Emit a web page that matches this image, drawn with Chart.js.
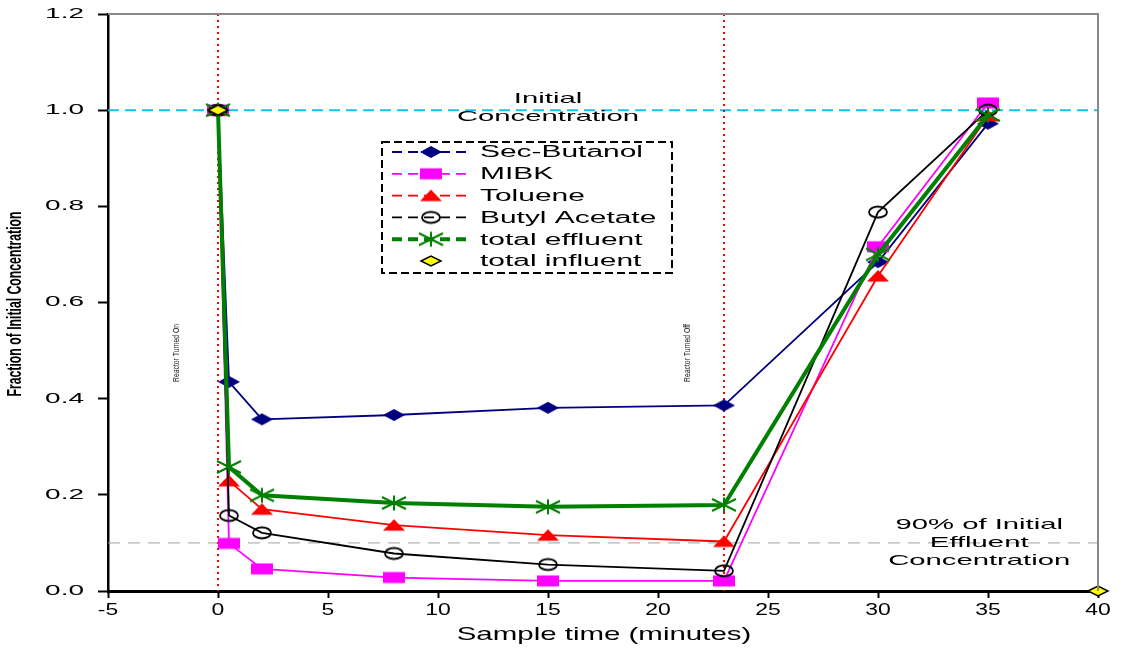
<!DOCTYPE html>
<html>
<head>
<meta charset="utf-8">
<script src="https://cdn.jsdelivr.net/npm/chart.js@4/dist/chart.umd.min.js"></script>
<style>
  html, body { margin: 0; padding: 0; background: #fff; }
  #wrap { width: 1125px; height: 651px; position: relative; }
</style>
</head>
<body>
<div id="wrap"><canvas id="chart" width="1125" height="651"></canvas></div>
<script>
// Sample times (minutes) shared by every effluent series
const sampleTimes = [0, 0.5, 2, 8, 15, 23, 30, 35];

// Fraction of initial concentration per compound
const secButanol   = [1.0, 0.435, 0.357, 0.366, 0.381, 0.386, 0.684, 0.972];
const mibk         = [1.0, 0.099, 0.046, 0.028, 0.021, 0.021, 0.716, 1.015];
const toluene      = [1.0, 0.229, 0.170, 0.137, 0.116, 0.103, 0.655, 0.988];
const butylAcetate = [1.0, 0.157, 0.121, 0.078, 0.055, 0.042, 0.788, 1.000];
const totalEffluent= [1.0, 0.258, 0.199, 0.183, 0.175, 0.179, 0.700, 0.990];

// Influent samples
const influentTimes = [0, 40];
const totalInfluent = [1.0, 0.0];

// Reference levels and events
const initialLevel = 1.0;
const ninetyPctLevel = 0.1;
const reactorOnTime = 0;
const reactorOffTime = 23;

// Axis tick labels
const xTickLabels = ['-5', '0', '5', '10', '15', '20', '25', '30', '35', '40'];
const yTickLabels = ['0.0', '0.2', '0.4', '0.6', '0.8', '1.0', '1.2'];

const FONT = '"Liberation Sans", Arial, sans-serif';

// Marker images (wide, flat glyphs)
function makeMarker(kind, color) {
  const c = document.createElement('canvas');
  c.width = 28; c.height = 18;
  const g = c.getContext('2d');
  const cx = 14, cy = 9;
  g.fillStyle = color; g.strokeStyle = color;
  if (kind === 'diamond') {
    g.beginPath();
    g.moveTo(cx - 11, cy); g.lineTo(cx, cy - 6); g.lineTo(cx + 11, cy); g.lineTo(cx, cy + 6);
    g.closePath(); g.fill();
  } else if (kind === 'square') {
    g.fillRect(cx - 11, cy - 5.5, 22, 11);
  } else if (kind === 'triangle') {
    g.beginPath();
    g.moveTo(cx - 11, cy + 5.5); g.lineTo(cx + 11, cy + 5.5); g.lineTo(cx, cy - 6);
    g.closePath(); g.fill();
  } else if (kind === 'circle') {
    g.lineWidth = 1.8;
    g.beginPath(); g.ellipse(cx, cy, 9, 5.5, 0, 0, Math.PI * 2); g.stroke();
  } else if (kind === 'asterisk') {
    g.lineWidth = 2;
    g.beginPath();
    g.moveTo(cx - 12, cy - 6); g.lineTo(cx + 12, cy + 6);
    g.moveTo(cx - 12, cy + 6); g.lineTo(cx + 12, cy - 6);
    g.moveTo(cx, cy - 7.5); g.lineTo(cx, cy + 7.5);
    g.stroke();
  } else if (kind === 'yellowDiamond') {
    g.lineWidth = 1.5; g.strokeStyle = '#000'; g.fillStyle = color;
    g.beginPath();
    g.moveTo(cx - 10, cy); g.lineTo(cx, cy - 5); g.lineTo(cx + 10, cy); g.lineTo(cx, cy + 5);
    g.closePath(); g.fill(); g.stroke();
  }
  return c;
}

function pts(xs, ys) { return xs.map((x, i) => ({ x: x, y: ys[i] })); }

function series(label, ys, color, width, marker, order) {
  return {
    label: label,
    data: pts(sampleTimes, ys),
    borderColor: color,
    backgroundColor: color,
    borderWidth: width,
    pointStyle: marker,
    pointRadius: 10,
    showLine: true,
    tension: 0,
    clip: false,
    order: order
  };
}

const datasets = [
  series('Sec-Butanol', secButanol, '#000080', 1.8, makeMarker('diamond', '#000080'), 5),
  series('MIBK', mibk, '#ff00ff', 1.8, makeMarker('square', '#ff00ff'), 4),
  series('Toluene', toluene, '#ff0000', 1.8, makeMarker('triangle', '#ff0000'), 3),
  series('Butyl Acetate', butylAcetate, '#000000', 1.8, makeMarker('circle', '#000000'), 2),
  series('total effluent', totalEffluent, '#008000', 4, makeMarker('asterisk', '#008000'), 1),
  {
    label: 'total influent',
    data: pts(influentTimes, totalInfluent),
    borderColor: '#000',
    backgroundColor: '#ffff00',
    borderWidth: 0,
    pointStyle: makeMarker('yellowDiamond', '#ffff00'),
    pointRadius: 10,
    showLine: false,
    clip: false,
    order: 0
  }
];

function stretchText(ctx, text, x, y, sx, sy, align, font, color) {
  ctx.save();
  ctx.translate(x, y);
  ctx.scale(sx, sy);
  ctx.font = font;
  ctx.fillStyle = color || '#000';
  ctx.textAlign = align;
  ctx.textBaseline = 'middle';
  ctx.fillText(text, 0, 0);
  ctx.restore();
}

const decorations = {
  id: 'decorations',
  beforeDatasetsDraw(chart) {
    const { ctx, chartArea: a, scales: { x, y } } = chart;
    ctx.save();
    // initial concentration level
    ctx.strokeStyle = '#11c4f0'; ctx.lineWidth = 2; ctx.setLineDash([11, 6]);
    ctx.beginPath(); ctx.moveTo(a.left, y.getPixelForValue(initialLevel)); ctx.lineTo(a.right, y.getPixelForValue(initialLevel)); ctx.stroke();
    // 90 % removal level
    ctx.strokeStyle = '#a0a0a0'; ctx.lineWidth = 1; ctx.setLineDash([12, 8]);
    ctx.beginPath(); ctx.moveTo(a.left, y.getPixelForValue(ninetyPctLevel)); ctx.lineTo(a.right, y.getPixelForValue(ninetyPctLevel)); ctx.stroke();
    // reactor on / off
    ctx.strokeStyle = '#ff0000'; ctx.lineWidth = 2; ctx.setLineDash([2, 4]);
    [reactorOnTime, reactorOffTime].forEach(t => {
      const px = x.getPixelForValue(t);
      ctx.beginPath(); ctx.moveTo(px, a.top); ctx.lineTo(px, a.bottom); ctx.stroke();
    });
    ctx.restore();

    const noteFont = '15px ' + FONT;
    const cx1 = x.getPixelForValue(15);
    stretchText(ctx, 'Initial', cx1, y.getPixelForValue(1.024), 1.95, 1, 'center', noteFont);
    stretchText(ctx, 'Concentration', cx1, y.getPixelForValue(0.987), 1.95, 1, 'center', noteFont);
    const cx2 = x.getPixelForValue(34.6);
    stretchText(ctx, '90% of Initial', cx2, y.getPixelForValue(0.138), 1.95, 1, 'center', noteFont);
    stretchText(ctx, 'Effluent', cx2, y.getPixelForValue(0.1), 1.95, 1, 'center', noteFont);
    stretchText(ctx, 'Concentration', cx2, y.getPixelForValue(0.062), 1.95, 1, 'center', noteFont);

    // event labels beside the reactor lines
    const evFont = '8px ' + FONT;
    [[reactorOnTime - 1.9, 'Reactor Turned On'], [reactorOffTime - 1.65, 'Reactor Turned Off']].forEach(([t, s]) => {
      ctx.save();
      ctx.translate(x.getPixelForValue(t), y.getPixelForValue(0.495));
      ctx.rotate(-Math.PI / 2);
      ctx.scale(0.85, 1.05);
      ctx.font = evFont; ctx.fillStyle = '#222';
      ctx.textAlign = 'center'; ctx.textBaseline = 'middle';
      ctx.fillText(s, 0, 0);
      ctx.restore();
    });
  },
  afterDatasetsDraw(chart) {
    const { ctx, chartArea: a } = chart;
    ctx.save();
    // frame on top and right
    ctx.strokeStyle = '#888'; ctx.lineWidth = 2; ctx.setLineDash([]);
    ctx.beginPath(); ctx.moveTo(a.left, a.top); ctx.lineTo(a.right, a.top); ctx.lineTo(a.right, a.bottom); ctx.stroke();

    // legend
    const bx = 382, by = 142, bw = 290, bh = 131;
    ctx.fillStyle = '#fff'; ctx.fillRect(bx, by, bw, bh);
    ctx.strokeStyle = '#000'; ctx.lineWidth = 2; ctx.setLineDash([8, 4]);
    ctx.strokeRect(bx, by, bw, bh);
    chart.data.datasets.forEach((ds, i) => {
      const ry = 152 + i * 21.8;
      if (ds.showLine) {
        ctx.strokeStyle = ds.borderColor; ctx.lineWidth = ds.borderWidth;
        ctx.setLineDash([10, 6]);
        ctx.beginPath(); ctx.moveTo(392, ry); ctx.lineTo(468, ry); ctx.stroke();
      }
      ctx.setLineDash([]);
      const img = ds.pointStyle;
      ctx.drawImage(img, 431 - img.width / 2, ry - img.height / 2);
      stretchText(ctx, ds.label, 480, ry + 1, 1.87, 1, 'left', '16px ' + FONT);
    });
    ctx.restore();
  },
  afterDraw(chart) {
    const { ctx, scales: { x, y } } = chart;
    y.ticks.forEach((t, i) => {
      stretchText(ctx, yTickLabels[i], 84, y.getPixelForValue(t.value), 2.0, 1, 'right', '14px ' + FONT);
    });
    x.ticks.forEach((t, i) => {
      stretchText(ctx, xTickLabels[i], x.getPixelForValue(t.value), 610, 1.35, 1, 'center', '17px ' + FONT);
    });
    stretchText(ctx, 'Sample time (minutes)', 604, 635, 1.55, 1, 'center', '19px ' + FONT);
    ctx.save();
    ctx.translate(16, 304);
    ctx.rotate(-Math.PI / 2);
    ctx.scale(0.72, 1.15);
    ctx.font = 'bold 17px ' + FONT; ctx.fillStyle = '#000';
    ctx.textAlign = 'center'; ctx.textBaseline = 'middle';
    ctx.fillText('Fraction of Initial Concentration', 0, 0);
    ctx.restore();
  }
};

new Chart(document.getElementById('chart'), {
  type: 'scatter',
  data: { datasets: datasets },
  options: {
    responsive: false,
    animation: false,
    layout: { padding: { left: 0, right: 27, top: 7, bottom: 0 } },
    plugins: { legend: { display: false }, tooltip: { enabled: false } },
    scales: {
      x: {
        type: 'linear', min: -5, max: 40,
        ticks: { stepSize: 5, display: false },
        grid: { drawOnChartArea: false, drawTicks: true, tickLength: 7, tickColor: '#000', tickWidth: 2 },
        border: { color: '#000', width: 3 },
        afterFit(s) { s.height = 60; }
      },
      y: {
        type: 'linear', min: 0, max: 1.2,
        ticks: { stepSize: 0.2, display: false },
        grid: { drawOnChartArea: false, drawTicks: true, tickLength: 10, tickColor: '#000', tickWidth: 2 },
        border: { color: '#000', width: 2.5 },
        afterFit(s) { s.width = 108; }
      }
    }
  },
  plugins: [decorations]
});
</script>
</body>
</html>
